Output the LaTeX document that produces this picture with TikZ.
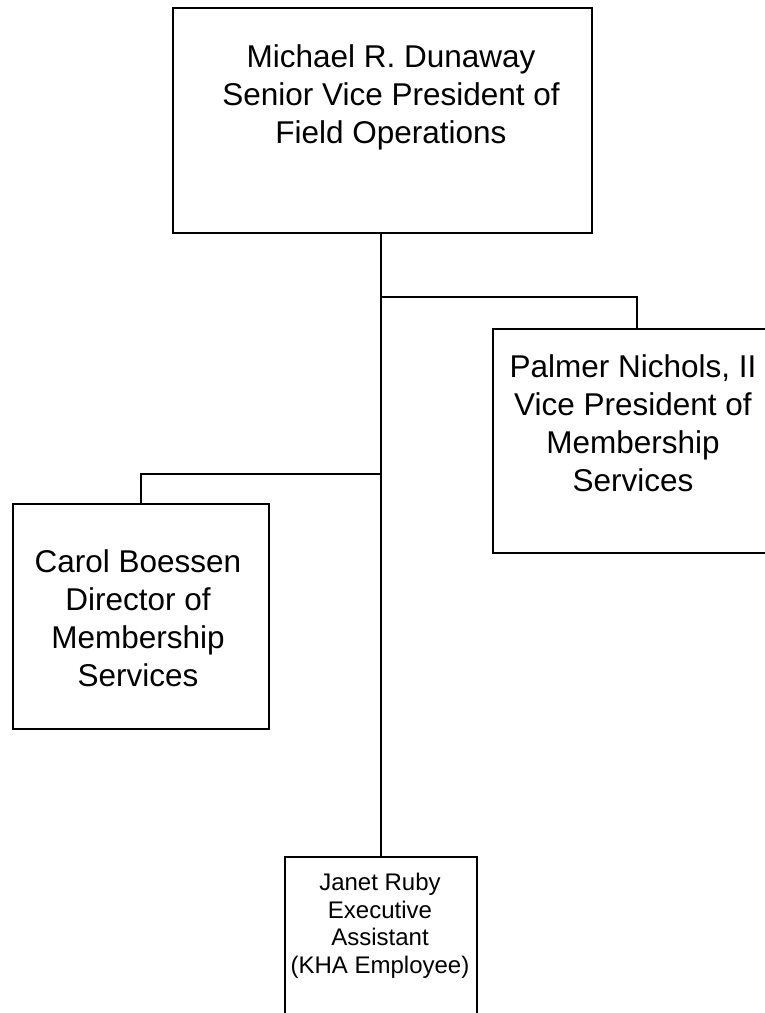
\documentclass[tikz,border=0pt]{standalone}
\usepackage{fontspec}
\setmainfont{Liberation Sans}
\begin{document}
\begin{tikzpicture}[x=1pt,y=-1pt,
  box/.style={draw, line width=1.6pt, inner sep=0pt},
  link/.style={line width=1.6pt},
  bigtext/.style={anchor=north, inner sep=0pt, align=center, font=\fontsize{31.5}{38}\selectfont},
  smalltext/.style={anchor=north, inner sep=0pt, align=center, font=\fontsize{24}{27.5}\selectfont}]
\clip (0,0) rectangle (765,1013);
% boxes
\node[box, minimum width=419pt, minimum height=225pt] (top) at (382.5,120.5) {};
\node[box, minimum width=288pt, minimum height=224pt] (palmer) at (637,441) {};
\node[box, minimum width=256pt, minimum height=225pt] (carol) at (141,616.5) {};
\node[box, minimum width=192pt, minimum height=180pt] (janet) at (381,947) {};
% texts
\node[bigtext] (ttop) at (391,44.5) {Michael R. Dunaway\\Senior Vice President of\\Field Operations};
\node[bigtext] (tpalmer) at (633,354.5) {Palmer Nichols, II\\Vice President of\\Membership\\Services};
\node[bigtext] (tcarol) at (138,549.5) {Carol Boessen\\Director of\\Membership\\Services};
\node[smalltext] (tjanet) at (380,873) {Janet Ruby\\Executive\\Assistant\\(KHA Employee)};
% connectors
\coordinate (bR) at (381,297);
\coordinate (bL) at (381,474);
\draw[link] (top.south -| janet.north) -- (janet.north);
\draw[link] (bR) -| (palmer.north);
\draw[link] (bL) -| (carol.north);
\end{tikzpicture}
\end{document}
